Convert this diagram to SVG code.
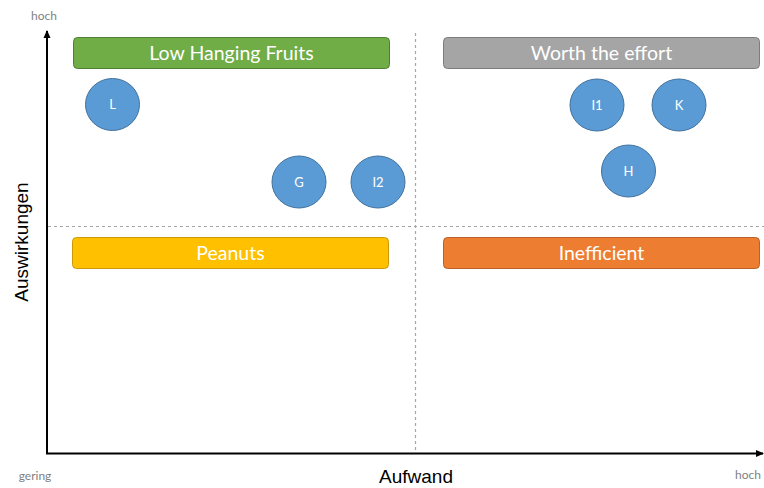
<svg xmlns="http://www.w3.org/2000/svg" width="764" height="488" viewBox="0 0 764 488">
<style>
.box{stroke-width:1}
.btxt{font-family:Lato,"Open Sans",sans-serif;font-size:19.5px;fill:#fff;text-anchor:middle}
.dot{fill:#5b9bd5;stroke:#41719c;stroke-width:1}
.dtxt{font-family:Lato,"Open Sans",sans-serif;font-size:13px;fill:#fff;text-anchor:middle}
.small{font-family:Lato,"Open Sans",sans-serif;font-size:12px;fill:#7f7f7f}
.axlab{font-family:"Liberation Sans",Arial,sans-serif;font-size:19px;fill:#000;text-anchor:middle}
.dash{stroke:#a6a6a6;stroke-width:1.2;stroke-dasharray:3,3;fill:none}
</style>
<defs>
<marker id="ah" markerWidth="8" markerHeight="8" refX="7" refY="4" orient="auto" markerUnits="userSpaceOnUse">
<path d="M0,0.5 L8,4 L0,7.5 z" fill="#000"/>
</marker>
</defs>
<rect width="764" height="488" fill="#fff"/>
<g id="connectors">
<line class="dash" x1="415.5" y1="33" x2="415.5" y2="453"/>
<line class="dash" x1="48" y1="226.5" x2="764" y2="226.5"/>
<line x1="47" y1="454" x2="47" y2="31" stroke="#000" stroke-width="2" marker-end="url(#ah)"/>
<line x1="46" y1="453.5" x2="763" y2="453.5" stroke="#000" stroke-width="2" marker-end="url(#ah)"/>
</g>
<g id="labels">
<text class="small" x="44" y="20" text-anchor="middle">hoch</text>
<text class="small" x="35" y="480" text-anchor="middle">gering</text>
<text class="small" x="748" y="479" text-anchor="middle">hoch</text>
<text class="axlab" x="416" y="483">Aufwand</text>
<text class="axlab" transform="translate(28,242) rotate(-90)">Auswirkungen</text>
</g>
<g id="low-hanging-fruits">
<rect class="box" x="73.5" y="37.5" width="316" height="31" rx="4" fill="#70ad47" stroke="#507e32"/>
<text class="btxt" x="231.5" y="59.5">Low Hanging Fruits</text>
</g>
<g id="worth-the-effort">
<rect class="box" x="443.5" y="37.5" width="316" height="31" rx="4" fill="#a5a5a5" stroke="#7c7c7c"/>
<text class="btxt" x="601.5" y="59.5">Worth the effort</text>
</g>
<g id="peanuts">
<rect class="box" x="72.5" y="237.5" width="316" height="31" rx="4" fill="#ffc000" stroke="#c99a06"/>
<text class="btxt" x="230.5" y="259.5">Peanuts</text>
</g>
<g id="inefficient">
<rect class="box" x="443.5" y="237.5" width="316" height="31" rx="4" fill="#ed7d31" stroke="#b8612a"/>
<text class="btxt" x="601.5" y="259.5">Inefficient</text>
</g>
<g id="node-L">
<ellipse class="dot" cx="112.5" cy="104.5" rx="27" ry="26"/>
<text class="dtxt" x="112.5" y="109">L</text>
</g>
<g id="node-G">
<ellipse class="dot" cx="299" cy="182" rx="27" ry="26"/>
<text class="dtxt" x="299" y="186.5">G</text>
</g>
<g id="node-I2">
<ellipse class="dot" cx="378" cy="182" rx="27" ry="26"/>
<text class="dtxt" x="378" y="186.5">I2</text>
</g>
<g id="node-I1">
<ellipse class="dot" cx="597" cy="105" rx="27" ry="26"/>
<text class="dtxt" x="597" y="109.5">I1</text>
</g>
<g id="node-K">
<ellipse class="dot" cx="679" cy="105" rx="27" ry="26"/>
<text class="dtxt" x="679" y="109.5">K</text>
</g>
<g id="node-H">
<ellipse class="dot" cx="628.5" cy="171" rx="27" ry="26"/>
<text class="dtxt" x="628.5" y="175.5">H</text>
</g>
</svg>
